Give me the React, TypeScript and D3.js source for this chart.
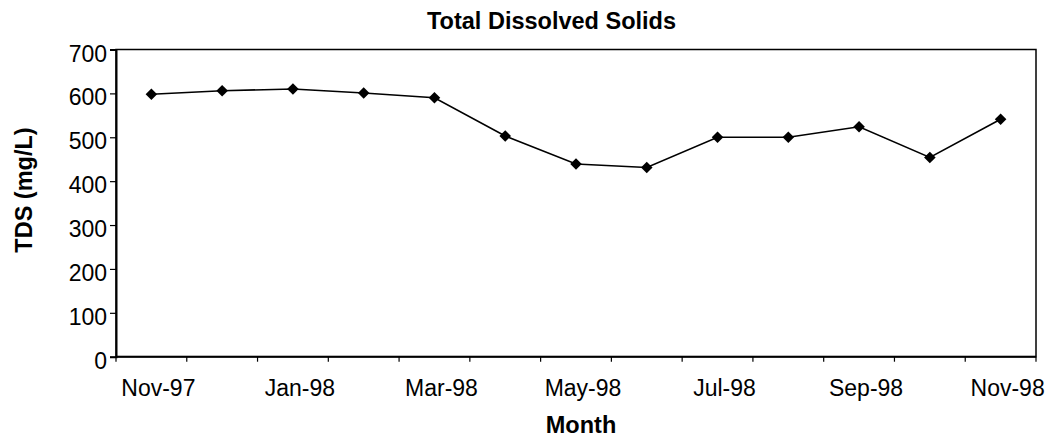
import { useEffect, useRef } from "react";
import * as d3 from "d3";

const months = [
  "Nov-97", "Dec-97", "Jan-98", "Feb-98", "Mar-98", "Apr-98", "May-98",
  "Jun-98", "Jul-98", "Aug-98", "Sep-98", "Oct-98", "Nov-98",
];
const tds = [598, 606, 610, 601, 590, 503, 439, 431, 500, 500, 524, 454, 541];
const yTicks = [0, 100, 200, 300, 400, 500, 600, 700];
const labelledMonths = ["Nov-97", "Jan-98", "Mar-98", "May-98", "Jul-98", "Sep-98", "Nov-98"];

export default function App() {
  const svgRef = useRef<SVGSVGElement>(null);

  useEffect(() => {
    if (!svgRef.current) return;

    const width = 1050;
    const height = 441;
    const margin = { top: 49.5, right: 14, bottom: 84.3, left: 116 };
    const font = "'Liberation Sans', Arial, sans-serif";

    d3.select(svgRef.current).selectAll("*").remove();

    const svg = d3
      .select(svgRef.current)
      .attr("width", width)
      .attr("height", height)
      .attr("viewBox", `0 0 ${width} ${height}`);

    const x = d3
      .scaleBand<string>()
      .domain(months)
      .range([margin.left, width - margin.right])
      .padding(0);

    const y = d3
      .scaleLinear()
      .domain([0, 700])
      .range([height - margin.bottom, margin.top]);

    // plot frame
    svg
      .append("rect")
      .attr("x", margin.left)
      .attr("y", margin.top)
      .attr("width", width - margin.right - margin.left)
      .attr("height", height - margin.bottom - margin.top)
      .attr("fill", "none")
      .attr("stroke", "#000")
      .attr("stroke-width", 1.5);

    // y axis
    const yAxis = svg
      .append("g")
      .attr("transform", `translate(${margin.left},0)`)
      .call(d3.axisLeft(y).tickValues(yTicks).tickSize(6).tickPadding(3).tickFormat(d3.format("d")));
    yAxis.select(".domain").attr("stroke-width", 2);
    yAxis.selectAll(".tick line").attr("stroke-width", 1.2);
    yAxis
      .selectAll(".tick text")
      .attr("font-family", font)
      .attr("font-size", 23)
      .attr("fill", "#000")
      .attr("dy", "0.5em");

    // x axis: ticks on category boundaries
    const xAxisG = svg
      .append("g")
      .attr("transform", `translate(0,${height - margin.bottom})`);
    xAxisG
      .append("line")
      .attr("x1", margin.left)
      .attr("x2", width - margin.right)
      .attr("stroke", "#000")
      .attr("stroke-width", 2);
    const bounds = months.map((m) => x(m)!).concat([x(months[months.length - 1])! + x.bandwidth()]);
    xAxisG
      .selectAll("line.tk")
      .data(bounds)
      .join("line")
      .attr("class", "tk")
      .attr("x1", (d) => d)
      .attr("x2", (d) => d)
      .attr("y1", 0)
      .attr("y2", 5)
      .attr("stroke", "#000")
      .attr("stroke-width", 1.2);
    xAxisG
      .selectAll("text")
      .data(labelledMonths)
      .join("text")
      .attr("x", (d) => x(d)! + x.bandwidth() / 2 + 7)
      .attr("y", 39.5)
      .attr("text-anchor", "middle")
      .attr("font-family", font)
      .attr("font-size", 23)
      .attr("fill", "#000")
      .text((d) => d);

    const pts = months.map((m, i) => ({ m, v: tds[i] }));

    const line = d3
      .line<(typeof pts)[0]>()
      .x((d) => x(d.m)! + x.bandwidth() / 2)
      .y((d) => y(d.v));

    svg
      .append("path")
      .datum(pts)
      .attr("fill", "none")
      .attr("stroke", "#000")
      .attr("stroke-width", 1.6)
      .attr("d", line);

    const diamond = d3.symbol(d3.symbolDiamond2, 85);
    svg
      .selectAll("path.pt")
      .data(pts)
      .join("path")
      .attr("class", "pt")
      .attr("d", diamond)
      .attr("transform", (d) => `translate(${x(d.m)! + x.bandwidth() / 2},${y(d.v)})`)
      .attr("fill", "#000");

    // titles
    svg
      .append("text")
      .attr("x", 551.5)
      .attr("y", 29.3)
      .attr("text-anchor", "middle")
      .attr("font-family", font)
      .attr("font-weight", "bold")
      .attr("font-size", 23.5)
      .text("Total Dissolved Solids");

    svg
      .append("text")
      .attr("x", 581)
      .attr("y", 433)
      .attr("text-anchor", "middle")
      .attr("font-family", font)
      .attr("font-weight", "bold")
      .attr("font-size", 23.5)
      .text("Month");

    svg
      .append("text")
      .attr("transform", "translate(32,190) rotate(-90)")
      .attr("text-anchor", "middle")
      .attr("font-family", font)
      .attr("font-weight", "bold")
      .attr("font-size", 23.5)
      .text("TDS (mg/L)");
  }, []);

  return (
    <svg
      ref={svgRef}
      style={{ position: "absolute", left: 0, top: 0, background: "#fff" }}
    />
  );
}
